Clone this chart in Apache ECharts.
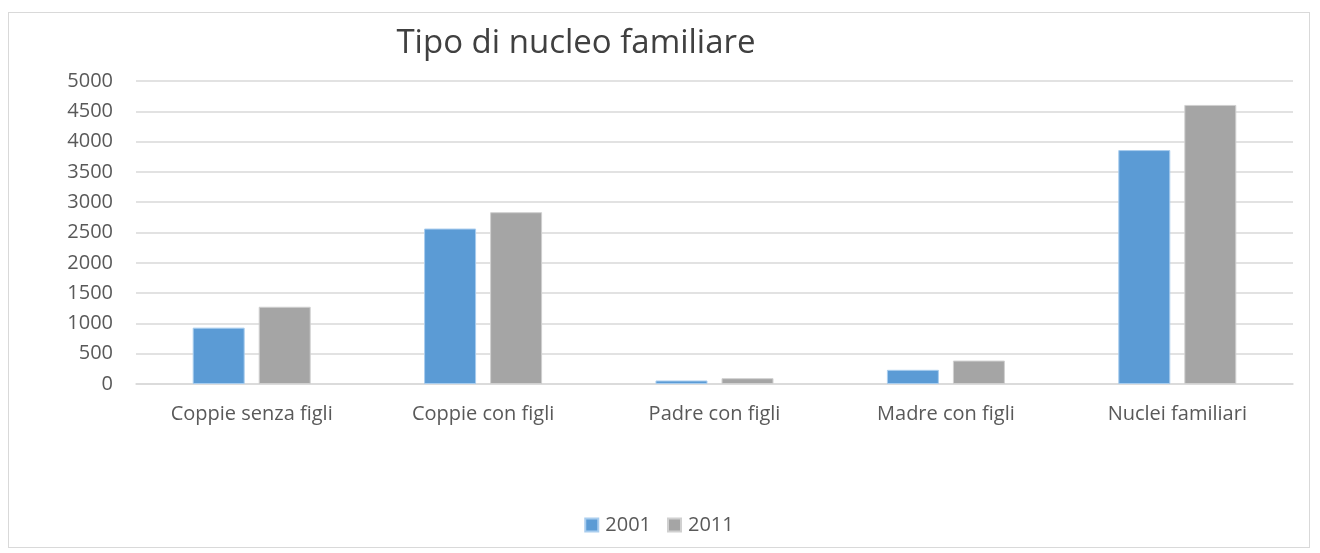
<!DOCTYPE html>
<html>
<head>
<meta charset="utf-8">
<script src="https://cdn.jsdelivr.net/npm/echarts@6/dist/echarts.min.js"></script>
<style>
  html, body { margin: 0; padding: 0; background: #fff; }
  #chart { position: absolute; left: 8px; top: 12px; width: 1302px; height: 536px; border: 1px solid #d9d9d9; box-sizing: border-box; }
</style>
</head>
<body>
<div id="chart"></div>
<script>
const categories = ['Coppie senza figli', 'Coppie con figli', 'Padre con figli', 'Madre con figli', 'Nuclei familiari'];
const values2001 = [930, 2565, 58, 234, 3860];
const values2011 = [1275, 2835, 96, 387, 4605];
const yTicks = [0, 500, 1000, 1500, 2000, 2500, 3000, 3500, 4000, 4500, 5000];

const font = '"Open Sans", "Noto Sans", sans-serif';
const chart = echarts.init(document.getElementById('chart'));

chart.setOption({
  animation: false,
  textStyle: { fontFamily: font },
  title: {
    text: 'Tipo di nucleo familiare',
    left: 562, top: 9, textAlign: 'center',
    textStyle: { fontSize: 33, fontWeight: 'normal', color: '#404040', fontFamily: font }
  },
  legend: {
    bottom: 7, left: 'center',
    itemWidth: 13, itemHeight: 13, itemGap: 16,
    icon: 'rect',
    textStyle: { fontSize: 20, color: '#595959', fontFamily: font, padding: [0, 0, 0, 2] }
  },
  grid: { left: 127, right: 16, top: 68, bottom: 163, containLabel: false },
  xAxis: {
    type: 'category',
    data: categories,
    axisLine: { lineStyle: { color: '#d9d9d9', width: 1.5 } },
    axisTick: { show: false },
    axisLabel: { fontSize: 20, color: '#595959', margin: 20 }
  },
  yAxis: {
    type: 'value',
    min: 0, max: yTicks[yTicks.length - 1], interval: 500,
    axisLine: { show: false },
    axisTick: { show: false },
    splitLine: { lineStyle: { color: '#d9d9d9', width: 1.5 } },
    axisLabel: { fontSize: 20, color: '#595959', margin: 23, formatter: v => String(v) }
  },
  series: [
    {
      name: '2001', type: 'bar', data: values2001,
      barGap: '27%', barCategoryGap: '49%',
      itemStyle: { color: '#5b9bd5', borderColor: '#a9cdee', borderWidth: 1 }
    },
    {
      name: '2011', type: 'bar', data: values2011,
      itemStyle: { color: '#a5a5a5', borderColor: '#d0d0d0', borderWidth: 1 }
    }
  ]
});
</script>
</body>
</html>
